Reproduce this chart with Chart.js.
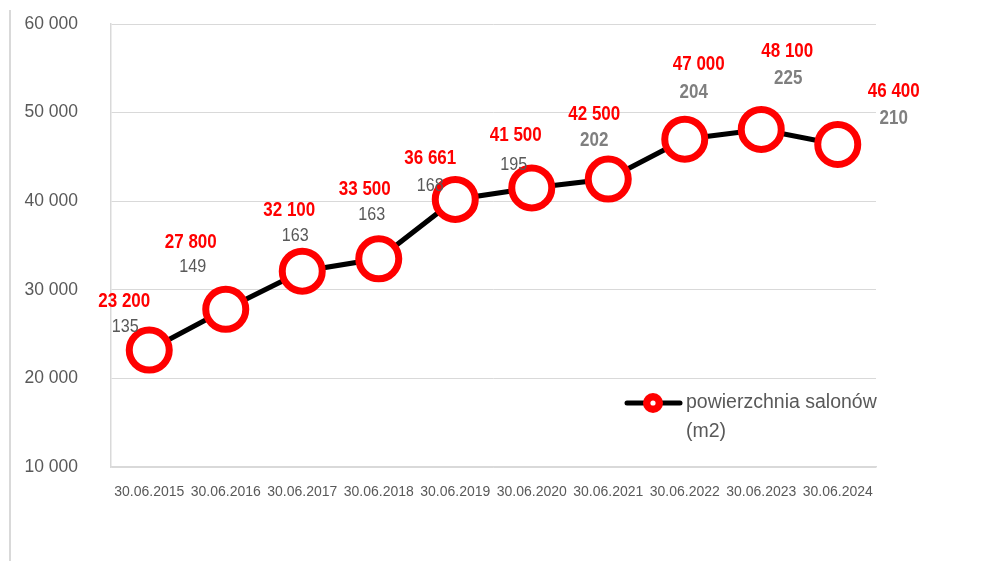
<!DOCTYPE html>
<html>
<head>
<meta charset="utf-8">
<script src="https://cdn.jsdelivr.net/npm/chart.js@4/dist/chart.umd.min.js"></script>
<style>
html,body{margin:0;padding:0;background:#fff;}
#wrap{position:relative;width:1001px;height:561px;}
#edge{position:absolute;left:9px;top:10px;width:2px;height:551px;background:#d9d9d9;}
canvas{position:absolute;left:0;top:0;}
</style>
</head>
<body>
<div id="wrap"><div id="edge"></div><canvas id="c" width="1001" height="561"></canvas></div>
<script>
const categories = ['30.06.2015','30.06.2016','30.06.2017','30.06.2018','30.06.2019','30.06.2020','30.06.2021','30.06.2022','30.06.2023','30.06.2024'];
const areaValues = [23200, 27800, 32100, 33500, 40200, 41500, 42500, 47000, 48100, 46400];
const areaLabels = ['23 200','27 800','32 100','33 500','36 661','41 500','42 500','47 000','48 100','46 400'];
const storeCounts = ['135','149','163','163','168','195','202','204','225','210'];
const yTicks = [10000, 20000, 30000, 40000, 50000, 60000];
const seriesName = ['powierzchnia salonów', '(m2)'];

// label placement (pixel offsets from each point), layout only
const redOff = [[-25,-49],[-35,-67],[-13,-61],[-14,-69],[-25,-41],[-16,-52],[-14,-65],[14,-75],[26,-78],[56,-53]];
const grayOff = [[-24,-23],[-33,-43],[-7,-35],[-7,-44],[-25,-14],[-18,-23],[-14,-39],[9,-47],[27,-51],[56,-26]];
const grayBoldFrom = 6;

const SANS = '"Liberation Sans", Arial, sans-serif';
const NARROW_SCALE = 0.85;

function narrowText(ctx, text, x, y) {
  ctx.save();
  ctx.translate(x, y);
  ctx.scale(NARROW_SCALE, 1);
  ctx.fillText(text, 0, 0);
  ctx.restore();
}

const labelPlugin = {
  id: 'pointLabels',
  afterDatasetsDraw(chart) {
    const ctx = chart.ctx;
    const meta = chart.getDatasetMeta(0);
    ctx.save();
    ctx.textAlign = 'center';
    ctx.textBaseline = 'middle';
    meta.data.forEach((pt, i) => {
      ctx.font = 'bold 20px ' + SANS;
      ctx.fillStyle = '#ff0000';
      narrowText(ctx, areaLabels[i], pt.x + redOff[i][0], pt.y + redOff[i][1]);
      if (i >= grayBoldFrom) {
        ctx.font = 'bold 20px ' + SANS;
        ctx.fillStyle = '#7f7f7f';
      } else {
        ctx.font = '19px ' + SANS;
        ctx.fillStyle = '#595959';
      }
      narrowText(ctx, storeCounts[i], pt.x + grayOff[i][0], pt.y + grayOff[i][1]);
    });
    ctx.restore();
  }
};

const legendPlugin = {
  id: 'customLegend',
  afterDraw(chart) {
    const ctx = chart.ctx;
    const y = 403;
    ctx.save();
    ctx.strokeStyle = '#000';
    ctx.lineWidth = 5;
    ctx.lineCap = 'round';
    ctx.beginPath();
    ctx.moveTo(627, y);
    ctx.lineTo(680, y);
    ctx.stroke();
    ctx.fillStyle = '#ff0000';
    ctx.beginPath();
    ctx.arc(653, y, 10, 0, Math.PI * 2);
    ctx.fill();
    ctx.fillStyle = '#fff';
    ctx.beginPath();
    ctx.arc(653, y, 2.6, 0, Math.PI * 2);
    ctx.fill();
    ctx.fillStyle = '#595959';
    ctx.font = '19.5px ' + SANS;
    ctx.textAlign = 'left';
    ctx.textBaseline = 'middle';
    ctx.fillText(seriesName[0], 686, y);
    ctx.fillText(seriesName[1], 686, y + 29);
    ctx.restore();
  }
};

new Chart(document.getElementById('c'), {
  type: 'line',
  data: {
    labels: categories,
    datasets: [{
      label: seriesName.join(' '),
      data: areaValues,
      borderColor: '#000000',
      borderWidth: 5,
      tension: 0,
      pointRadius: 20,
      pointHoverRadius: 20,
      pointBorderWidth: 7,
      pointBorderColor: '#ff0000',
      pointBackgroundColor: '#ffffff'
    }]
  },
  options: {
    responsive: false,
    animation: false,
    events: [],
    layout: { autoPadding: false, padding: { left: 0, right: 125, top: 24, bottom: 0 } },
    plugins: { legend: { display: false }, tooltip: { enabled: false } },
    scales: {
      x: {
        offset: true,
        grid: { display: false, drawTicks: false },
        border: { display: true, color: '#d9d9d9', width: 1.5 },
        ticks: { color: '#595959', font: { family: SANS, size: 14 }, padding: 17, maxRotation: 0, autoSkip: false },
        afterFit: s => { s.height = 94; s.paddingLeft = 0; s.paddingRight = 0; }
      },
      y: {
        min: 10000, max: 60000,
        afterBuildTicks: s => { s.ticks = yTicks.map(v => ({ value: v })); },
        grid: { color: '#d9d9d9', lineWidth: 1, drawTicks: false },
        border: { display: true, color: '#d9d9d9', width: 1.5 },
        ticks: {
          color: '#595959', font: { family: SANS, size: 17.5 }, padding: 33,
          callback: v => String(v).replace(/\B(?=(\d{3})+(?!\d))/g, ' ')
        },
        afterFit: s => { s.width = 111; s.paddingTop = 0; s.paddingBottom = 0; }
      }
    }
  },
  plugins: [labelPlugin, legendPlugin]
});
</script>
</body>
</html>
